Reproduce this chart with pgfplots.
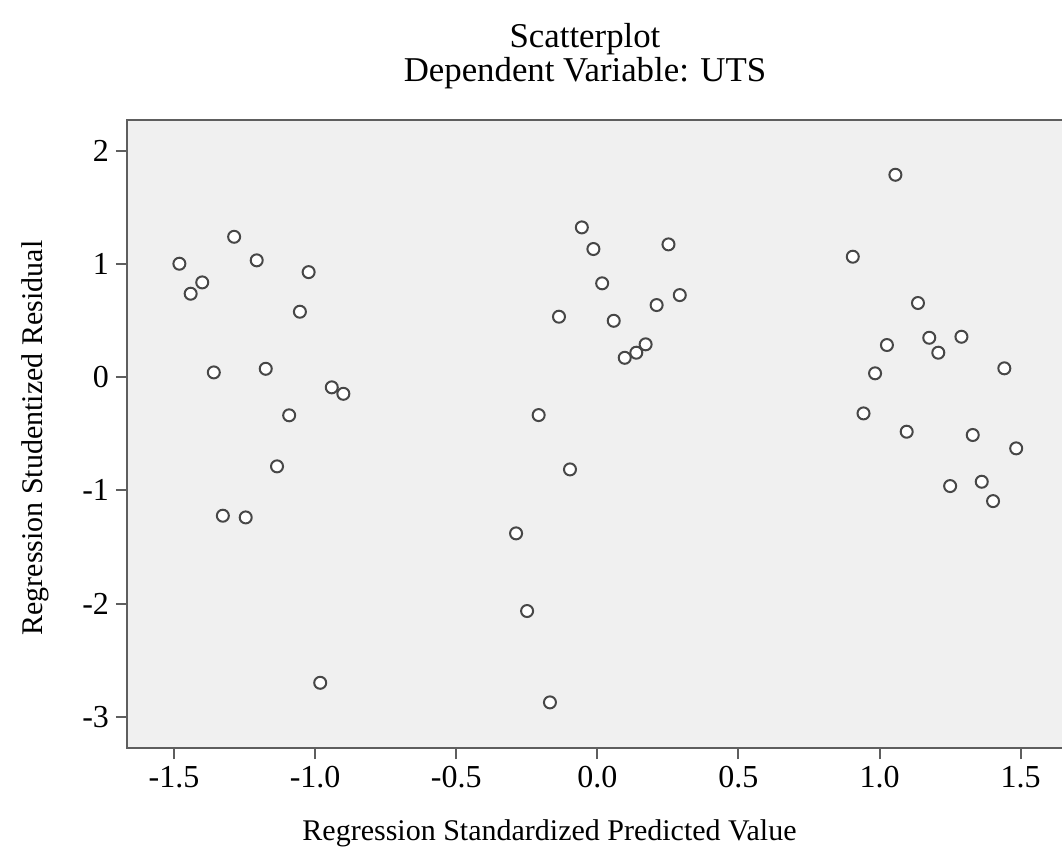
\documentclass[border=0pt]{standalone}
\usepackage{fontspec}
\setmainfont{Liberation Serif}
\usepackage{pgfplots}
\pgfplotsset{compat=1.18}
\definecolor{axgray}{HTML}{5E5E5E}
\definecolor{bggray}{HTML}{F0F0F0}
\definecolor{mkgray}{HTML}{474747}
\begin{document}
\begin{tikzpicture}
\begin{axis}[
  scale only axis,
  width=468.5pt, height=314pt,
  xmin=-1.6666, xmax=1.6534,
  ymin=-3.276, ymax=2.2717,
  axis background/.style={fill=bggray},
  axis line style={draw=axgray, line width=1pt},
  tick align=outside,
  xtick pos=bottom, ytick pos=left,
  major tick length=5.5pt,
  tick style={draw=axgray, line width=1pt},
  xtick={-1.5,-1,-0.5,0,0.5,1,1.5},
  xticklabels={-1.5,-1.0,-0.5,0.0,0.5,1.0,1.5},
  ytick={-3,-2,-1,0,1,2},
  yticklabels={-3,-2,-1,0,1,2},
  ticklabel style={font=\fontsize{16}{19}\selectfont, text=black},
  clip=false,
  xlabel={Regression Standardized Predicted Value},
  xlabel style={at={(axis description cs:0.4509,-0.1465)}, anchor=base, font=\fontsize{15}{18}\selectfont},
  ylabel={Regression Studentized Residual},
  ylabel style={at={(axis description cs:-0.0907,0.4936)}, anchor=base, rotate=0, font=\fontsize{15}{18}\selectfont},
  title={Dependent Variable: UTS},
  title style={at={(axis description cs:0.4888,1.043)}, anchor=base, inner sep=1pt, font=\fontsize{17.4}{20}\selectfont},
]
\node[anchor=base, inner sep=1pt, font=\fontsize{17.4}{20}\selectfont] at (axis description cs:0.4888,1.1162) {Scatterplot};
\addplot[only marks, mark=*, mark size=3pt, mark options={draw=mkgray, fill=white, line width=1pt}] table {
x y
-1.481 1.002
-1.441 0.737
-1.400 0.837
-1.287 1.240
-1.359 0.042
-1.207 1.032
-1.023 0.928
-1.054 0.578
-1.175 0.074
-1.092 -0.337
-0.941 -0.090
-0.900 -0.147
-1.135 -0.788
-1.327 -1.224
-1.246 -1.239
-0.982 -2.700
-0.055 1.323
-0.014 1.132
0.017 0.829
0.252 1.173
-0.136 0.534
0.058 0.498
0.210 0.637
0.292 0.725
0.097 0.171
0.138 0.216
0.171 0.290
-0.208 -0.335
-0.097 -0.815
-0.288 -1.380
-0.249 -2.066
-0.168 -2.873
1.056 1.788
0.905 1.064
1.136 0.655
1.176 0.348
1.290 0.357
1.026 0.284
1.208 0.216
0.984 0.034
1.442 0.078
0.943 -0.320
1.096 -0.482
1.330 -0.511
1.484 -0.629
1.250 -0.962
1.362 -0.924
1.402 -1.095
};
\end{axis}
\pgfresetboundingbox
\useasboundingbox (-63.5pt,-58pt) rectangle (467.5pt,374pt);
\end{tikzpicture}
\end{document}
